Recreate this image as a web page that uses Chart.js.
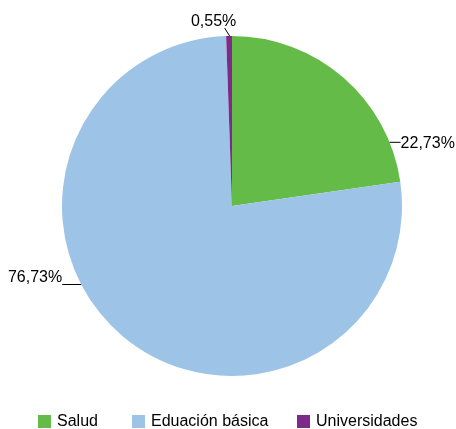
<!DOCTYPE html>
<html>
<head>
<meta charset="utf-8">
<script src="https://cdn.jsdelivr.net/npm/chart.js@4"></script>
<style>
  html, body { margin: 0; padding: 0; background: #fff; }
  #wrap { width: 456px; height: 429px; }
</style>
</head>
<body>
<div id="wrap"><canvas id="pieChart" width="456" height="429"></canvas></div>
<script>
const categories = ['Salud', 'Eduación básica', 'Universidades'];
const shares = [22.73, 76.73, 0.55];
const shareLabels = ['22,73%', '76,73%', '0,55%'];
const sliceColors = ['#65bb47', '#9dc3e6', '#7e2a8b'];

// where each label sits (degrees clockwise from top) and how it is anchored
const labelSpots = [
    { angle: 68, dir: 'right' },
    { angle: 242.5, dir: 'left' },
    { angle: 359.2, dir: 'up' }
];
// legend columns (box left edge)
const legendX = [38, 132, 297];

const labelPlugin = {
    id: 'pieLabels',
    afterDatasetsDraw(chart) {
        const ctx = chart.ctx;
        const arcs = chart.getDatasetMeta(0).data;
        ctx.save();
        ctx.font = '16px "Liberation Sans", Arial, sans-serif';
        ctx.fillStyle = '#000';
        ctx.strokeStyle = '#000';
        ctx.lineWidth = 1;
        arcs.forEach((arc, i) => {
            const spot = labelSpots[i];
            const a = spot.angle * Math.PI / 180;
            const ex = arc.x + arc.outerRadius * Math.sin(a);
            const ey = arc.y - arc.outerRadius * Math.cos(a);
            ctx.beginPath();
            if (spot.dir === 'right') {
                ctx.moveTo(ex, ey);
                ctx.lineTo(ex + 11, ey);
                ctx.stroke();
                ctx.textAlign = 'left';
                ctx.textBaseline = 'middle';
                ctx.fillText(shareLabels[i], ex + 11, ey + 1);
            } else if (spot.dir === 'left') {
                ctx.moveTo(ex, ey);
                ctx.lineTo(ex - 19, ey);
                ctx.stroke();
                ctx.textAlign = 'right';
                ctx.textBaseline = 'alphabetic';
                ctx.fillText(shareLabels[i], ex - 19, ey - 2);
            } else {
                ctx.moveTo(ex, ey);
                ctx.lineTo(ex - 5, ey - 8);
                ctx.stroke();
                ctx.textAlign = 'center';
                ctx.textBaseline = 'alphabetic';
                ctx.fillText(shareLabels[i], ex - 16, ey - 10);
            }
        });
        ctx.restore();
    }
};

const legendPlugin = {
    id: 'boxLegend',
    afterDraw(chart) {
        const ctx = chart.ctx;
        ctx.save();
        ctx.font = '16px "Liberation Sans", Arial, sans-serif';
        ctx.textAlign = 'left';
        ctx.textBaseline = 'middle';
        categories.forEach((name, i) => {
            ctx.fillStyle = sliceColors[i];
            ctx.fillRect(legendX[i], 415, 13, 13);
            ctx.fillStyle = '#000';
            ctx.fillText(name, legendX[i] + 19, 422);
        });
        ctx.restore();
    }
};

const pieConfig = {
    type: 'pie',
    data: {
        labels: categories,
        datasets: [{
            data: shares,
            backgroundColor: sliceColors,
            borderWidth: 0
        }]
    },
    options: {
        responsive: false,
        animation: false,
        layout: {
            padding: { left: 62, right: 54, top: 36, bottom: 53 }
        },
        plugins: {
            legend: { display: false },
            tooltip: { enabled: false }
        }
    },
    plugins: [labelPlugin, legendPlugin]
};

const pieChart = new Chart(document.getElementById('pieChart'), pieConfig);
</script>
</body>
</html>
